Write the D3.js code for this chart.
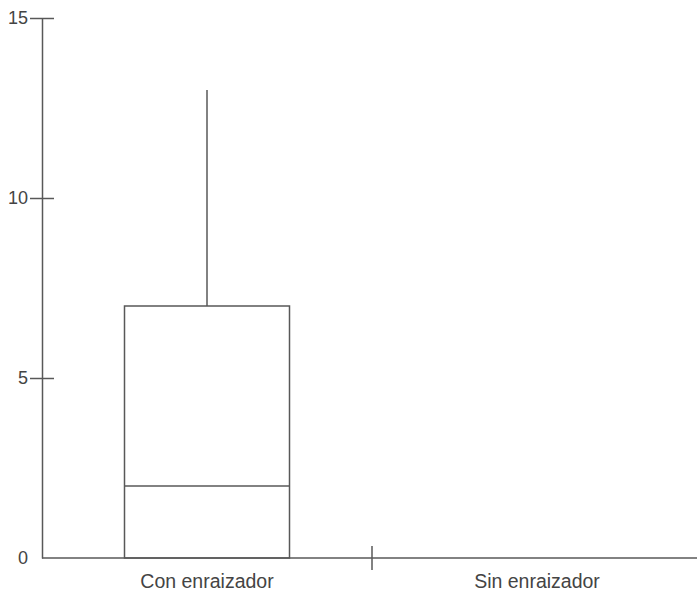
<!DOCTYPE html>
<html>
<head>
<meta charset="utf-8">
<script src="https://cdn.jsdelivr.net/npm/d3@7"></script>
<style>
  html, body { margin: 0; padding: 0; background: #fff; }
  svg { display: block; }
  text { font-family: "Liberation Sans", Arial, sans-serif; }
</style>
</head>
<body>
<script>
const categories = ["Con enraizador", "Sin enraizador"];
const minVals = [0, 0];
const q1Vals = [0, 0];
const medianVals = [2, 0];
const q3Vals = [7, 0];
const maxVals = [13, 0];
const yTicks = [0, 5, 10, 15];

(function () {
const W = 697, H = 594;
const mLeft = 42, mRight = 702, mTop = 18, mBottom = 558;
const stroke = "#585858";
const textColor = "#444";

const svg = d3.select("body").append("svg").attr("width", W).attr("height", H);

const x = d3.scaleBand().domain(categories).range([mLeft, mRight]).paddingInner(0).paddingOuter(0);
const y = d3.scaleLinear().domain([0, 15]).range([mBottom, mTop]);

// Y axis
const yAxis = svg.append("g").attr("transform", `translate(${mLeft},0)`)
  .call(d3.axisLeft(y).tickValues(yTicks).tickSize(12).tickPadding(2).tickSizeOuter(0));
yAxis.select(".domain").attr("stroke", stroke).attr("stroke-width", 1.5);
yAxis.selectAll(".tick line").attr("x1", 12).attr("x2", -12).attr("stroke", stroke).attr("stroke-width", 1.5)
  .filter(d => d === 0).remove();
yAxis.selectAll(".tick text").attr("fill", textColor).attr("font-size", 18)
  .attr("font-family", "Liberation Sans, Arial, sans-serif");

// X axis
const xAxis = svg.append("g").attr("transform", `translate(0,${mBottom})`)
  .call(d3.axisBottom(x).tickSize(0).tickPadding(16).tickSizeOuter(0));
xAxis.select(".domain").attr("stroke", stroke).attr("stroke-width", 1.5)
  .attr("d", `M${mLeft},0H${W}`);
xAxis.selectAll(".tick text").attr("fill", textColor).attr("font-size", 19.5)
  .attr("font-family", "Liberation Sans, Arial, sans-serif");
// divider tick between categories
xAxis.append("line")
  .attr("x1", x(categories[1])).attr("x2", x(categories[1]))
  .attr("y1", -12).attr("y2", 12)
  .attr("stroke", stroke).attr("stroke-width", 1.5);

// Boxes
const boxW = x.bandwidth() * 0.5;
const data = categories.map((c, i) => ({c, min: minVals[i], q1: q1Vals[i], med: medianVals[i], q3: q3Vals[i], max: maxVals[i]}))
  .filter(d => d.max > d.min);
const g = svg.append("g").selectAll("g").data(data).join("g");
g.append("line")
  .attr("x1", d => x(d.c) + x.bandwidth() / 2).attr("x2", d => x(d.c) + x.bandwidth() / 2)
  .attr("y1", d => y(d.q3)).attr("y2", d => y(d.max))
  .attr("stroke", stroke).attr("stroke-width", 1.5);
g.append("line")
  .attr("x1", d => x(d.c) + x.bandwidth() / 2).attr("x2", d => x(d.c) + x.bandwidth() / 2)
  .attr("y1", d => y(d.q1)).attr("y2", d => y(d.min))
  .attr("stroke", stroke).attr("stroke-width", 1.5);
g.append("rect")
  .attr("x", d => x(d.c) + (x.bandwidth() - boxW) / 2)
  .attr("width", boxW)
  .attr("y", d => y(d.q3))
  .attr("height", d => y(d.q1) - y(d.q3))
  .attr("fill", "none").attr("stroke", stroke).attr("stroke-width", 1.5);
g.append("line")
  .attr("x1", d => x(d.c) + (x.bandwidth() - boxW) / 2)
  .attr("x2", d => x(d.c) + (x.bandwidth() + boxW) / 2)
  .attr("y1", d => y(d.med)).attr("y2", d => y(d.med))
  .attr("stroke", stroke).attr("stroke-width", 1.5);
})();
</script>
</body>
</html>
